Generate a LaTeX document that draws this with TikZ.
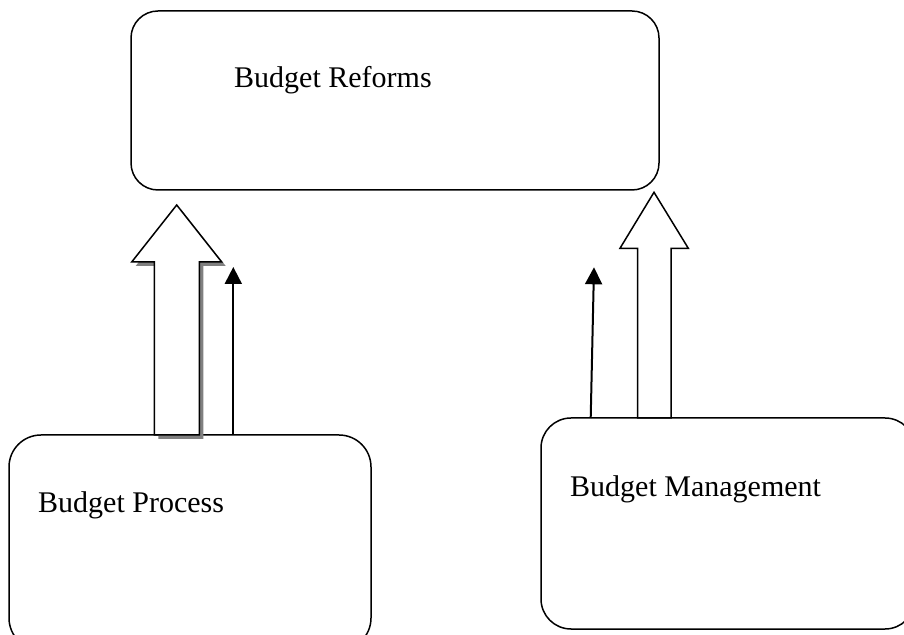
\documentclass[tikz,border=0pt]{standalone}
\usepackage{fontspec}
\setmainfont{Liberation Serif}
\usetikzlibrary{arrows.meta,positioning,shadows}
\tikzset{
	box/.style={draw, line width=1.5pt, inner sep=0pt, outer sep=0pt, anchor=north west},
	boxtext/.style={anchor=base west, inner sep=0pt, font=\fontsize{30}{36}\selectfont},
	thinarrow/.style={line width=2pt, -{Triangle[length=17pt,width=17pt]}},
	bigarrow/.style={draw, fill=white, line width=1.5pt},
	greyshadow/.style={drop shadow={shadow xshift=4pt, shadow yshift=-4pt, fill=gray, opacity=1}},
}

\begin{document}
\begin{tikzpicture}[x=1pt,y=1pt]
	\useasboundingbox (0,0) rectangle (904,634);
	% draw rounded boxes
	\node[box,
	minimum width=528pt,
	minimum height=179pt,
	rounded corners=27pt] (reforms) at (131,623) {};
	\node[box,
	minimum width=362pt,
	minimum height=215pt,
	rounded corners=32pt] (process) at (9,199) {};
	\node[box,
	minimum width=374pt,
	minimum height=211pt,
	rounded corners=30pt] (management) at (541,216) {};
	
	% box texts
	\node[boxtext] (reformstext) at ([shift={(103,-77)}]reforms.north west) {Budget Reforms};
	\node[boxtext] (processtext) at ([shift={(29,-78)}]process.north west) {Budget Process};
	\node[boxtext] (managementtext) at ([shift={(29,-79)}]management.north west) {Budget Management};
	
	% Block arrows
	\draw[bigarrow, greyshadow] ([xshift=145.3]process.north west)
	-- ++(0,173) -- ++(-22.6,0) -- ++(45,57) -- ++(45,-57) -- ++(-22.4,0) -- ++(0,-173) -- cycle;
	\draw[bigarrow] ([xshift=96.7]management.north west)
	-- ++(0,169.7) -- ++(-17.7,0) -- ++(34,56) -- ++(34.3,-56) -- ++(-17.3,0) -- ++(0,-169.7) -- cycle;
	
	% Arrows
	\coordinate (processtip) at (233.3,367);
	\coordinate (managementfoot) at ([xshift=49.7]management.north west);
	\coordinate (managementtip) at (594,366.7);
	\draw[thinarrow] (process.north -| processtip) -- (processtip);
	\draw[thinarrow] (managementfoot) -- (managementtip);
\end{tikzpicture}
\end{document}
